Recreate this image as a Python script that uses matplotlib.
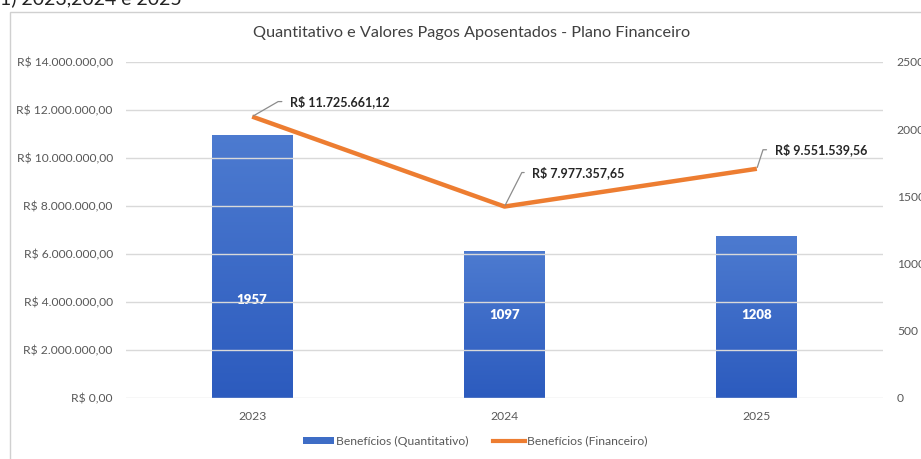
import matplotlib
matplotlib.use("Agg")
import matplotlib.pyplot as plt
from matplotlib.patches import Rectangle, Patch
from matplotlib.lines import Line2D
from matplotlib.colors import LinearSegmentedColormap
import numpy as np

plt.rcParams['font.family'] = ['Lato', 'DejaVu Sans']

anos = ["2023", "2024", "2025"]
quantitativo = [1957, 1097, 1208]
financeiro = [11725661.12, 7977357.65, 9551539.56]
fin_labels = ["R$ 11.725.661,12", "R$ 7.977.357,65", "R$ 9.551.539,56"]
left_ticks = [0, 2e6, 4e6, 6e6, 8e6, 10e6, 12e6, 14e6]
left_ticklabels = ["R$ 0,00", "R$ 2.000.000,00", "R$ 4.000.000,00", "R$ 6.000.000,00",
                   "R$ 8.000.000,00", "R$ 10.000.000,00", "R$ 12.000.000,00", "R$ 14.000.000,00"]
right_ticks = [0, 500, 1000, 1500, 2000, 2500]

# label placement (style), offsets in pixels and leader angles
bar_label_y = [730, 620, 620]
fin_label_off = [(38, 15), (28, 34), (18, 19)]
leader_angle = [30, 63, 72]

grey = "#595959"
fig = plt.figure(figsize=(9.21, 4.59), dpi=100)
W, H = 921, 459

# chart frame
fig.patches.append(Rectangle((10 / W, -0.2), 1.2, 1 - 12 / H + 0.2, transform=fig.transFigure,
                             fill=False, edgecolor="#D0D0D0", lw=1))
fig.text(0.0, 1 - 4 / H, "1) 2023,2024 e 2025", fontsize=14, color="#222222", va="baseline", ha="left")

ax = fig.add_axes([126 / W, 1 - 398 / H, (883 - 126) / W, (398 - 62) / H])
ax2 = ax.twinx()

x = np.arange(len(anos))
ax.set_xlim(-0.5, 2.5)
ax.set_ylim(0, 14e6)

ax.set_yticks(left_ticks)
ax.set_yticklabels(left_ticklabels)
ax.grid(axis="y", color="#D9D9D9", lw=1)
ax2.set_yticks(right_ticks)
ax2.set_yticklabels([str(v) for v in right_ticks])
ax.set_xticks(x)
ax.set_xticklabels(anos)

for a in (ax, ax2):
    for s in a.spines.values():
        s.set_visible(False)
    a.tick_params(length=0, colors=grey, labelsize=8.7)
ax.tick_params(axis="y", pad=9.5)
ax2.tick_params(axis="y", pad=10)
ax.tick_params(axis="x", pad=9)

# bars on secondary axis with gradient
bw = 0.32
bars = ax2.bar(x, quantitativo, width=bw, color="#3E6DC6", zorder=2)
grad = np.linspace(0, 1, 256).reshape(-1, 1)
cmap = LinearSegmentedColormap.from_list("g", ["#2C5BBE", "#4D7BD0"])
for b in bars:
    bx, by, bwid, bh = b.get_x(), b.get_y(), b.get_width(), b.get_height()
    im = ax2.imshow(grad, extent=[bx, bx + bwid, by, by + bh], aspect="auto",
                    cmap=cmap, origin="lower", zorder=2.1)
    im.set_clip_path(b)
ax2.set_xlim(-0.5, 2.5)
ax2.set_ylim(0, 2500)
for xi, q, ly in zip(x, quantitativo, bar_label_y):
    ax2.text(xi, ly, str(q), ha="center", va="center", color="white",
             fontsize=9.5, fontweight="heavy", zorder=3)

# line on primary axis, drawn above the bars
ax.set_zorder(ax2.get_zorder() + 1)
ax.patch.set_visible(False)
ax2.patch.set_visible(True)
ax.plot(x, financeiro, color="#ED7D31", lw=3.2, solid_capstyle="butt", zorder=4)
for xi, v, lab, (dx, dy), ang in zip(x, financeiro, fin_labels, fin_label_off, leader_angle):
    ax.annotate(lab, xy=(xi, v), xytext=(dx, dy), textcoords="offset pixels",
                ha="left", va="center", fontsize=9, fontweight="bold", color="#262626",
                arrowprops=dict(arrowstyle="-", color="#8C8C8C", lw=0.9,
                                connectionstyle=f"angle,angleA=0,angleB={ang},rad=0",
                                relpos=(0, 0.5), shrinkA=4, shrinkB=1), zorder=5)

fig.text(472 / W, 1 - 33 / H, "Quantitativo e Valores Pagos Aposentados - Plano Financeiro",
         ha="center", va="center", fontsize=11.7, color="#404040")

# legend
handles = [Patch(facecolor="#3E6DC6", edgecolor="none"),
           Line2D([0], [0], color="#ED7D31", lw=3)]
fig.legend(handles, ["Benefícios (Quantitativo)", "Benefícios (Financeiro)"],
           loc="center", bbox_to_anchor=(475 / W, 1 - 441 / H), ncol=2, frameon=False,
           fontsize=8.7, labelcolor=grey, handlelength=2.6, handleheight=0.5,
           handletextpad=0.2, columnspacing=2.0)

fig.savefig("out.png", dpi=100)
